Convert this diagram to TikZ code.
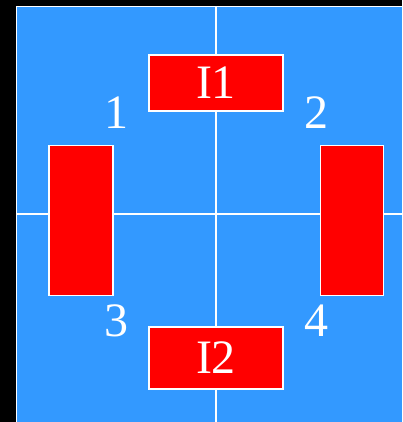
\documentclass[tikz,border=0pt]{standalone}
\usepackage{fontspec}
\setmainfont{Liberation Serif}
\definecolor{bgblue}{HTML}{3399FF}
\definecolor{boxred}{HTML}{FF0000}
\begin{document}
\begin{tikzpicture}[x=1pt,y=-1pt,
  wline/.style={draw=white,line width=1.3pt},
  redbox/.style={draw=white,line width=1.3pt,fill=boxred,inner sep=0pt,text=white,font=\fontsize{48}{48}\selectfont},
  lbl/.style={text=white,inner sep=0pt,font=\fontsize{48}{48}\selectfont}]
\useasboundingbox (0,0) rectangle (402,422);
\fill[black] (0,0) rectangle (402,422);
\fill[bgblue] (16,6) rectangle (402,422);
\draw[wline] (16.5,422) -- (16.5,6.5) -- (402,6.5);
\coordinate (vt) at (216,6.5);
\coordinate (vb) at (216,422);
\coordinate (hl) at (16.5,214);
\coordinate (hr) at (402,214);
\draw[wline] (vt) -- (vb);
\draw[wline] (hl) -- (hr);
\node[redbox,minimum width=134pt,minimum height=56pt] (i1) at (216,83) {I1};
\node[redbox,minimum width=134pt,minimum height=62pt] (i2) at (216,358) {I2};
\node[redbox,minimum width=64pt,minimum height=150pt] (l) at (81,220.5) {};
\node[redbox,minimum width=63pt,minimum height=150pt] (r) at (352,220.5) {};
\node[lbl] (n1) at (116,113) {1};
\node[lbl] (n2) at (316.5,113) {2};
\node[lbl] (n3) at (116,321) {3};
\node[lbl] (n4) at (316,321) {4};
\end{tikzpicture}
\end{document}
